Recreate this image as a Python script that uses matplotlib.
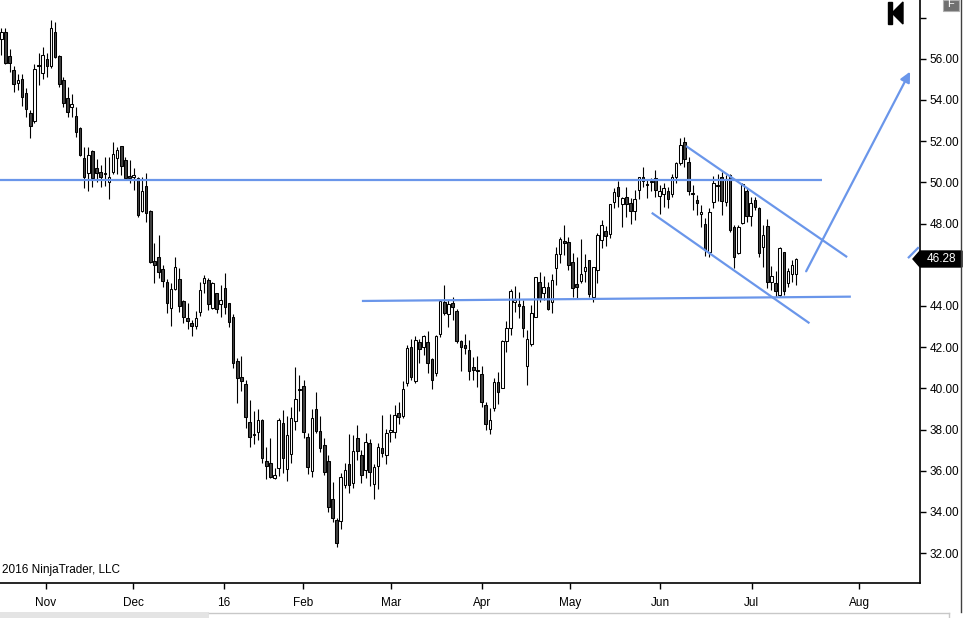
import numpy as np
import matplotlib.pyplot as plt
from matplotlib.patches import Rectangle, Polygon
from matplotlib.lines import Line2D

plt.rcParams['font.family'] = ['Liberation Sans', 'DejaVu Sans']

# daily candles (Oct 2015 - mid Jul 2016)
opens = [
    56.94, 57.28, 56.13, 55.45, 54.80, 55.00, 54.32, 53.35, 52.99, 55.67,
    55.29, 55.97, 55.66, 57.28, 56.13, 54.97, 54.08, 53.64, 53.22, 52.64,
    51.16, 50.47, 51.52, 50.68, 50.52, 50.42, 50.02, 50.52, 51.20, 51.76,
    51.08, 50.31, 50.24, 50.19, 48.62, 49.82, 48.61, 46.18, 46.36, 45.78,
    45.15, 43.88, 44.81, 45.29, 44.26, 43.40, 43.15, 43.04, 43.72, 45.10,
    45.26, 43.92, 44.61, 44.08, 44.85, 44.13, 43.45, 41.33, 40.54, 40.21,
    38.35, 37.77, 37.87, 38.47, 36.47, 36.36, 35.63, 36.12, 38.30, 36.07,
    36.80, 38.43, 39.95, 40.12, 37.66, 36.01, 39.00, 37.93, 37.25, 36.47,
    34.63, 33.61, 33.56, 35.31, 36.33, 35.39, 37.57, 36.76, 36.03, 37.36,
    35.34, 36.23, 37.08, 36.76, 37.89, 37.89, 38.78, 38.67, 40.24, 41.99,
    40.37, 42.23, 42.02, 42.23, 41.40, 40.76, 42.62, 44.17, 43.59, 44.12,
    43.75, 42.29, 42.10, 41.86, 41.05, 40.89, 40.69, 39.19, 38.01, 39.06,
    40.29, 40.03, 42.30, 42.91, 44.17, 44.09, 43.99, 41.10, 42.15, 43.48,
    45.14, 44.61, 44.93, 44.20, 45.82, 46.52, 47.15, 47.09, 46.11, 45.05,
    45.22, 45.71, 46.23, 44.42, 45.74, 47.19, 47.63, 47.47, 49.06, 49.75,
    48.97, 49.27, 49.01, 48.62, 49.65, 50.24, 49.88, 50.05, 50.19, 49.33,
    49.43, 49.59, 49.41, 50.24, 50.95, 51.97, 51.00, 49.44, 49.14, 48.44,
    48.00, 46.63, 49.06, 49.87, 50.24, 49.06, 50.36, 47.82, 46.59, 48.04,
    49.58, 48.38, 49.14, 48.74, 46.85, 47.88, 45.18, 45.13, 44.53, 46.60,
    45.13, 45.53, 45.53]
highs = [
    57.47, 57.47, 56.46, 55.65, 55.26, 55.26, 54.56, 53.51, 55.74, 56.26,
    56.58, 56.26, 57.88, 57.80, 56.18, 55.10, 54.61, 54.27, 53.64, 52.70,
    51.73, 51.73, 51.57, 51.12, 50.84, 51.25, 51.25, 51.94, 51.73, 51.78,
    51.25, 51.08, 50.68, 50.27, 50.27, 50.47, 48.65, 47.04, 47.44, 45.99,
    45.31, 45.13, 46.36, 45.82, 44.29, 44.13, 43.32, 43.75, 45.15, 45.50,
    45.34, 45.18, 44.64, 45.02, 45.58, 44.16, 43.61, 41.46, 41.57, 40.41,
    39.44, 38.90, 39.00, 38.50, 37.17, 37.61, 36.12, 38.58, 38.95, 38.66,
    39.08, 41.02, 40.65, 40.41, 37.82, 39.00, 39.81, 38.66, 37.61, 36.77,
    35.47, 33.69, 35.91, 36.36, 37.77, 37.74, 38.22, 37.00, 37.81, 37.52,
    36.35, 37.36, 38.70, 38.01, 38.75, 39.19, 39.35, 40.35, 42.10, 42.37,
    42.54, 42.37, 42.58, 42.78, 41.45, 42.58, 44.28, 45.01, 44.28, 44.45,
    43.85, 42.34, 42.62, 42.34, 41.53, 41.57, 41.08, 39.35, 39.03, 40.48,
    40.77, 42.34, 43.28, 44.80, 44.97, 44.66, 44.29, 42.83, 44.04, 45.42,
    45.66, 45.45, 45.18, 45.55, 46.87, 47.33, 47.93, 47.33, 46.55, 46.36,
    47.25, 46.52, 46.25, 45.90, 47.52, 48.17, 47.87, 48.97, 49.70, 50.06,
    49.30, 49.78, 49.25, 49.62, 50.27, 50.72, 50.11, 50.19, 50.59, 49.86,
    49.95, 49.78, 50.38, 51.00, 52.13, 52.18, 51.21, 49.86, 49.38, 48.89,
    48.25, 48.73, 50.31, 50.40, 50.52, 50.36, 50.40, 47.93, 47.93, 49.95,
    49.74, 49.30, 49.30, 48.79, 47.93, 48.20, 45.94, 45.71, 46.88, 46.63,
    45.83, 46.23, 46.34]
lows = [
    56.18, 55.74, 55.37, 54.40, 54.48, 53.70, 53.19, 52.13, 52.90, 54.72,
    55.02, 55.13, 55.53, 56.02, 54.64, 53.64, 53.19, 53.15, 52.22, 51.28,
    49.74, 49.59, 49.79, 50.03, 49.79, 49.84, 49.17, 50.39, 50.40, 50.35,
    50.11, 49.98, 49.63, 48.33, 48.58, 48.09, 46.07, 45.13, 45.34, 44.90,
    43.64, 43.04, 44.75, 43.72, 43.19, 42.88, 42.56, 42.88, 43.51, 44.61,
    43.80, 43.85, 43.64, 43.45, 43.59, 42.96, 40.97, 39.31, 39.89, 38.09,
    37.17, 37.30, 37.49, 36.36, 35.60, 35.67, 35.60, 35.76, 35.91, 35.52,
    36.39, 37.98, 38.92, 37.57, 35.84, 35.68, 37.82, 36.89, 35.79, 33.98,
    33.50, 32.32, 33.17, 35.18, 34.94, 35.15, 36.52, 35.38, 35.63, 35.25,
    34.61, 35.09, 36.68, 36.35, 37.41, 37.57, 38.25, 38.54, 40.11, 40.40,
    40.27, 41.24, 41.61, 40.76, 39.96, 40.59, 42.50, 43.56, 42.96, 43.31,
    42.21, 40.85, 41.69, 40.40, 40.40, 40.08, 39.11, 37.97, 37.76, 38.91,
    39.24, 40.00, 41.78, 42.59, 43.72, 43.40, 42.50, 40.16, 42.05, 43.44,
    44.20, 44.29, 43.80, 43.67, 45.01, 46.07, 46.47, 45.74, 44.42, 44.37,
    45.09, 45.18, 44.42, 44.20, 45.13, 46.79, 46.92, 47.31, 48.73, 48.81,
    47.81, 48.33, 47.96, 48.17, 49.17, 49.78, 49.22, 49.59, 49.30, 48.46,
    48.78, 48.73, 49.30, 49.98, 50.84, 50.75, 49.38, 48.68, 48.41, 47.81,
    46.42, 46.39, 48.74, 49.10, 48.41, 48.85, 47.61, 45.83, 46.52, 47.98,
    48.09, 47.88, 48.66, 46.36, 45.91, 44.85, 44.77, 44.45, 44.45, 44.53,
    44.94, 45.18, 45.02]
closes = [
    57.28, 55.81, 55.81, 54.76, 54.97, 54.16, 53.54, 52.75, 55.50, 55.63,
    56.18, 55.66, 57.47, 56.10, 54.76, 53.83, 53.43, 53.80, 52.46, 51.31,
    50.27, 51.33, 50.22, 50.44, 50.24, 50.38, 50.24, 51.36, 51.57, 50.79,
    50.19, 50.19, 50.36, 48.41, 49.58, 48.49, 46.15, 45.99, 45.66, 45.23,
    44.13, 44.81, 45.87, 44.01, 43.48, 43.28, 43.04, 43.40, 44.77, 45.34,
    44.08, 45.10, 43.83, 44.29, 43.96, 43.20, 41.22, 40.52, 40.37, 38.63,
    37.66, 37.72, 38.47, 36.64, 36.25, 35.71, 35.79, 38.47, 36.60, 37.74,
    38.55, 39.47, 39.90, 37.87, 36.17, 38.55, 37.95, 37.12, 35.96, 34.23,
    33.69, 32.48, 35.71, 36.04, 35.31, 36.96, 36.98, 35.79, 37.41, 35.92,
    36.19, 37.13, 36.84, 37.81, 37.96, 38.70, 38.59, 39.96, 41.94, 40.53,
    42.34, 41.89, 42.54, 41.21, 40.40, 42.54, 44.24, 43.67, 44.09, 43.96,
    42.31, 41.99, 41.94, 40.84, 40.89, 40.85, 39.32, 38.25, 38.46, 40.29,
    39.80, 42.30, 42.91, 44.74, 44.29, 43.99, 42.91, 42.38, 43.64, 45.39,
    44.32, 44.90, 43.83, 45.26, 46.52, 47.25, 47.07, 45.98, 44.85, 44.93,
    45.55, 45.87, 44.58, 45.87, 47.44, 47.92, 47.41, 48.93, 49.51, 49.33,
    49.22, 48.97, 48.62, 49.17, 50.24, 50.06, 49.85, 50.03, 49.65, 49.59,
    49.70, 49.17, 50.24, 50.92, 51.81, 51.11, 49.59, 49.41, 49.02, 48.54,
    46.71, 48.54, 49.95, 49.82, 49.11, 50.16, 47.69, 46.36, 47.85, 49.90,
    48.37, 49.01, 48.79, 46.59, 47.44, 45.15, 45.45, 44.74, 46.80, 44.74,
    45.70, 45.99, 46.28]

# month marks (bar index) and labels
month_pos = [10.8, 31.8, 53.8, 72.9, 94.1, 116.1, 137.4, 159.1, 181.3, 207.2]
month_labels = ['Nov', 'Dec', '16', 'Feb', 'Mar', 'Apr', 'May', 'Jun', 'Jul', 'Aug']

price_ticks = list(range(32, 59, 2))
last_price = 46.28

# drawing objects: (x0, y0, x1, y1) in bar index / price
resistance = (-1, 50.11, 198.2, 50.11)
support = (87.1, 44.24, 205.2, 44.45)
channel_top = (165.4, 51.76, 204.3, 46.37)
channel_bottom = (157.1, 48.52, 195.2, 43.16)
target_arrow = (194.4, 45.68, 219.5, 55.37)
stub = (219.0, 46.32, 221.6, 46.85)

blue = '#6a96ea'

W, H = 964, 618
fig = plt.figure(figsize=(W / 100, H / 100), dpi=100)
ax = fig.add_axes([0, 35 / H, 920 / W, 583 / H])

o = np.array(opens)
h = np.array(highs)
l = np.array(lows)
c = np.array(closes)
x = np.arange(len(o))
up = c >= o
bottom = np.minimum(o, c)
height = np.maximum(np.abs(c - o), 0.05)

ax.vlines(x, l, h, color='black', lw=0.8, zorder=2)
ax.bar(x[up], height[up], bottom=bottom[up], width=0.62, color='white',
       edgecolor='black', lw=0.75, zorder=3)
ax.bar(x[~up], height[~up], bottom=bottom[~up], width=0.62, color='#404040',
       edgecolor='black', lw=0.75, zorder=3)

for seg in [resistance, support, channel_top, channel_bottom, stub]:
    ax.plot([seg[0], seg[2]], [seg[1], seg[3]], color=blue, lw=1.6,
            solid_capstyle='butt', zorder=4)
ax.annotate('', xy=(target_arrow[2], target_arrow[3]),
            xytext=(target_arrow[0], target_arrow[1]),
            arrowprops=dict(arrowstyle='-|>', color=blue, lw=1.6,
                            mutation_scale=15, shrinkA=0, shrinkB=0),
            zorder=4)

ax.set_xlim(-0.31, 221.9)
ax.set_ylim(30.55, 58.85)

for side in ['top', 'left']:
    ax.spines[side].set_visible(False)
for side in ['right', 'bottom']:
    ax.spines[side].set_linewidth(1.2)

ax.yaxis.tick_right()
ax.set_yticks(price_ticks)
ax.set_yticklabels(['' if v in (46, 58) else f'{v:.2f}' for v in price_ticks])
ax.tick_params(axis='y', direction='out', length=4, width=1, pad=3, labelsize=8.5)
ax.set_xticks(month_pos)
ax.set_xticklabels(month_labels)
ax.tick_params(axis='x', direction='out', length=4, width=1, pad=6, labelsize=8.5)

fig.text(2 / W, 1 - 570 / H, '2016 NinjaTrader, LLC', fontsize=8.5, va='center')

# last price marker
pts = [(913, 259), (920, 251), (962, 251), (962, 267), (920, 267)]
fig.add_artist(Polygon([(px / W, 1 - py / H) for px, py in pts], closed=True,
                       color='black', transform=fig.transFigure))
fig.text(941 / W, 1 - 259 / H, f'{last_price:.2f}', color='white', fontsize=8.5,
         ha='center', va='center')

# navigation icon, top right
fig.add_artist(Rectangle((888 / W, 1 - 24 / H), 4 / W, 22 / H, color='black',
                         transform=fig.transFigure))
tri = [(892, 13), (903, 2), (903, 24)]
fig.add_artist(Polygon([(px / W, 1 - py / H) for px, py in tri], closed=True,
                       color='black', transform=fig.transFigure))

# F box
fig.add_artist(Rectangle((943 / W, 1 - 11 / H), 16 / W, 11 / H, facecolor='#707070',
                         edgecolor='#b0b0b0', lw=0.8, transform=fig.transFigure))
fig.text(951 / W, 1 - 4 / H, 'F', color='white', fontsize=8, ha='center', va='center')

# right border and scrollbar
fig.add_artist(Line2D([961 / W, 961 / W], [1 - 612 / H, 1], color='#404040', lw=1,
                      transform=fig.transFigure))
fig.add_artist(Rectangle((0, 0), 209 / W, 6 / H, facecolor='#e4e4e4', edgecolor='none',
                         transform=fig.transFigure))
fig.add_artist(Line2D([209 / W, 949 / W], [1 - 613 / H, 1 - 613 / H], color='#c8c8c8',
                      lw=1, transform=fig.transFigure))
fig.add_artist(Line2D([949 / W, 949 / W], [0, 1 - 613 / H], color='#c8c8c8', lw=1,
                      transform=fig.transFigure))

fig.savefig('out.png', dpi=100)
